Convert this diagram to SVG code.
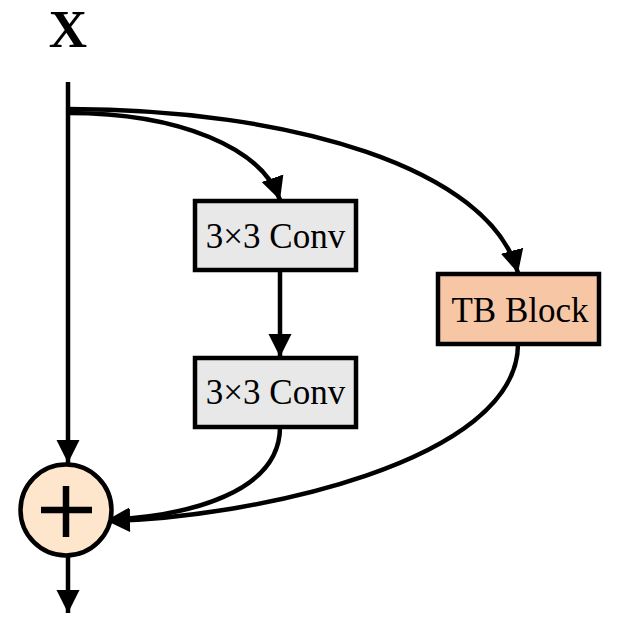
<svg xmlns="http://www.w3.org/2000/svg" width="624" height="634" viewBox="0 0 624 634">
<defs>
<marker id="ah" markerUnits="userSpaceOnUse" markerWidth="26" markerHeight="26" viewBox="0 0 26 26" refX="23" refY="13" orient="auto">
<path d="M0,1.5 L23,13 L0,24.5 Z" fill="#000"/>
</marker>
</defs>
<style>
.box{stroke:#000;stroke-width:4.5}
.conv{fill:#e8e8e8}
.tb{fill:#f7c6a5}
.lbl{font-family:"Liberation Serif","Times New Roman",serif;font-size:35px;fill:#000;text-anchor:middle}
.edge{fill:none;stroke:#000;stroke-width:4.5;marker-end:url(#ah)}
</style>
<g id="input">
<text x="68" y="47" style="font-family:'Liberation Serif','Times New Roman',serif;font-size:53px;font-weight:bold;text-anchor:middle">X</text>
</g>
<g id="connectors">
<line class="edge" x1="68" y1="82" x2="68" y2="463"/>
<path class="edge" d="M68,113 C180,113 262,148 280,200"/>
<path class="edge" d="M68,109 C290,109 490,168 518,273"/>
<line class="edge" x1="280" y1="270" x2="280" y2="357"/>
<path class="edge" d="M280,427 C280,492 190,516 107,520"/>
<path class="edge" d="M518,344 C518,462 250,518 107,521"/>
<line class="edge" x1="68" y1="555" x2="68" y2="613"/>
</g>
<g id="conv1">
<rect class="box conv" x="195" y="201" width="161" height="69"/>
<text class="lbl" x="275.5" y="248">3×3 Conv</text>
</g>
<g id="conv2">
<rect class="box conv" x="195" y="358" width="161" height="69"/>
<text class="lbl" x="275.5" y="404">3×3 Conv</text>
</g>
<g id="tb">
<rect class="box tb" x="438" y="274" width="161" height="70"/>
<text class="lbl" x="520" y="322">TB Block</text>
</g>
<g id="add">
<circle cx="66" cy="510" r="45.5" fill="#fde6cb" stroke="#000" stroke-width="4.5"/>
<line x1="41" y1="510" x2="92" y2="510" stroke="#000" stroke-width="6.5"/>
<line x1="66" y1="486" x2="66" y2="537" stroke="#000" stroke-width="6.5"/>
</g>
</svg>
